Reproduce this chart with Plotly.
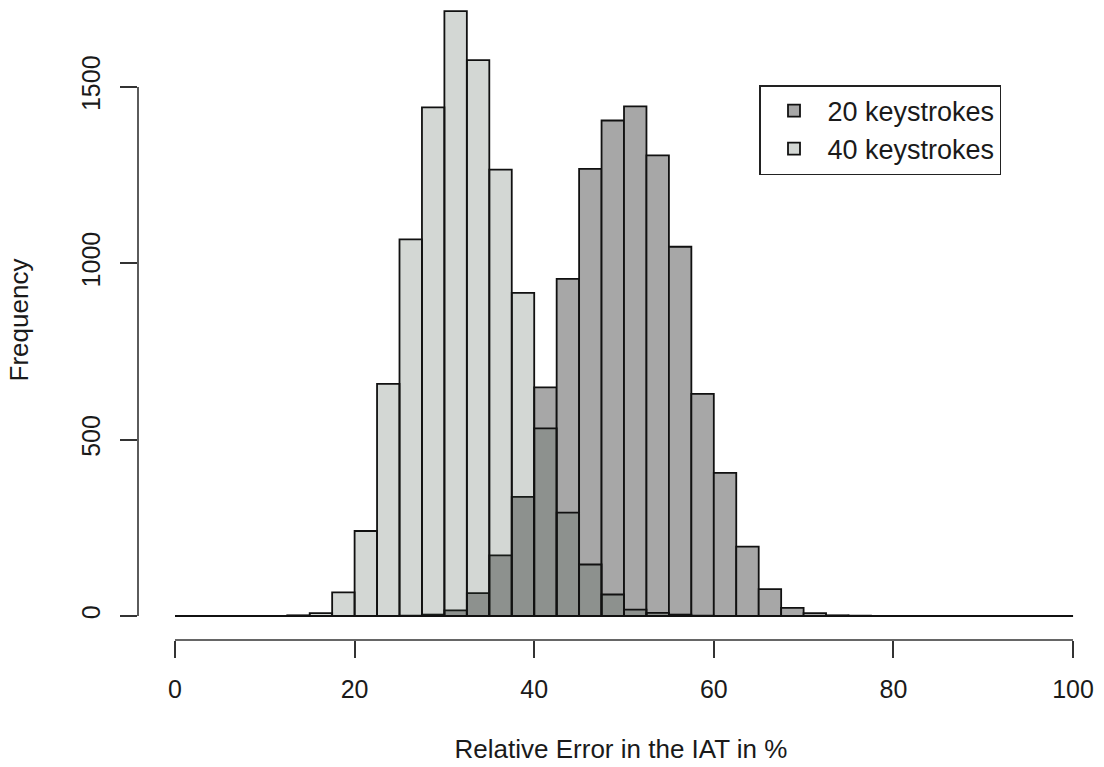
import plotly.graph_objects as go

# ---- data (bin width 2.5) ----
bin_left = [0, 2.5, 5, 7.5, 10, 12.5, 15, 17.5, 20, 22.5,
            25, 27.5, 30, 32.5, 35, 37.5, 40, 42.5, 45, 47.5,
            50, 52.5, 55, 57.5, 60, 62.5, 65, 67.5, 70, 72.5,
            75, 77.5, 80, 82.5, 85, 87.5, 90, 92.5, 95, 97.5]

freq_20_keystrokes = [0, 0, 0, 0, 0, 0, 0, 0, 0, 0,
                      1, 4, 16, 65, 172, 338, 648, 956, 1268, 1405,
                      1445, 1306, 1047, 630, 406, 197, 76, 23, 8, 2,
                      1, 0, 0, 0, 0, 0, 0, 0, 0, 0]

freq_40_keystrokes = [0, 0, 0, 0, 0, 2, 8, 67, 241, 658,
                      1068, 1442, 1715, 1576, 1266, 916, 532, 293, 146, 61,
                      18, 9, 4, 1, 0, 0, 0, 0, 0, 0,
                      0, 0, 0, 0, 0, 0, 0, 0, 0, 0]

series_names = ["20 keystrokes", "40 keystrokes"]
x_ticks = [0, 20, 40, 60, 80, 100]
y_ticks = [0, 500, 1000, 1500]
x_title = "Relative Error in the IAT in %"
y_title = "Frequency"

FONT = "Liberation Sans, Arial, Helvetica, sans-serif"
INK = "#1a1a1a"

fig = go.Figure()
fig.add_trace(go.Bar(
    x=bin_left, y=freq_20_keystrokes, width=2.5, offset=0,
    name=series_names[0],
    marker=dict(color="#a7a7a7", line=dict(color="#111111", width=1.8)),
))
fig.add_trace(go.Bar(
    x=bin_left, y=freq_40_keystrokes, width=2.5, offset=0,
    name=series_names[1],
    marker=dict(color="rgba(48,66,52,0.21)", line=dict(color="#111111", width=1.8)),
))

# R-style detached axis lines + zero baseline of empty bins
fig.add_shape(type="line", xref="x", yref="paper", x0=x_ticks[0], x1=x_ticks[-1], y0=0, y1=0,
              line=dict(color="#333333", width=1.6))
fig.add_shape(type="line", xref="paper", yref="y", x0=0, x1=0, y0=y_ticks[0], y1=y_ticks[-1],
              line=dict(color="#333333", width=1.6))
fig.add_shape(type="line", xref="x", yref="y", x0=bin_left[0], x1=bin_left[-1] + 2.5, y0=0, y1=0,
              line=dict(color="#111111", width=1.8))

fig.update_layout(
    width=1104, height=767,
    margin=dict(l=138, r=0, t=0, b=127),
    barmode="overlay",
    plot_bgcolor="white", paper_bgcolor="white",
    font=dict(family=FONT, size=25, color=INK),
    showlegend=True,
    legend=dict(
        x=(759 - 138) / 966, y=1 - 85 / 640, xanchor="left", yanchor="top",
        bordercolor="#222222", borderwidth=1.5, bgcolor="white",
        font=dict(size=27), itemwidth=57, traceorder="normal",
    ),
    xaxis=dict(
        range=[-4.12, 103.45], showgrid=False, zeroline=False, showline=False,
        tickmode="array", tickvals=x_ticks, ticks="outside", ticklen=17,
        tickwidth=1.6, tickcolor="#333333", ticklabelstandoff=10,
        title=dict(text=x_title, standoff=37, font=dict(size=26)),
    ),
    yaxis=dict(
        range=[-68.05, 1746.7], showgrid=False, zeroline=False, showline=False,
        tickmode="array", tickvals=y_ticks, ticks="outside", ticklen=17,
        tickwidth=1.6, tickcolor="#333333", tickangle=-90, ticklabelstandoff=10,
        title=dict(text=y_title, standoff=40, font=dict(size=26)),
    ),
)

fig.write_html("out.html", config={"displayModeBar": False},
               post_script="document.body.style.margin='0';")
